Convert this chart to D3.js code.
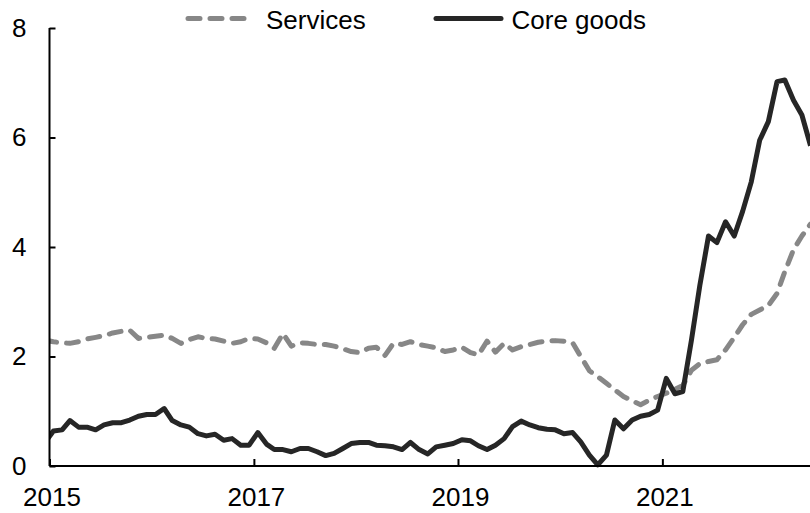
<!DOCTYPE html>
<html>
<head>
<meta charset="utf-8">
<script src="https://cdn.jsdelivr.net/npm/d3@7"></script>
<style>
  html, body { margin: 0; padding: 0; background: #fff; }
  svg { display: block; font-family: "Liberation Sans", Arial, sans-serif; }
</style>
</head>
<body>
<svg id="chart" width="810" height="513"></svg>
<script>
// ---- Data (monthly, plotted mid-month) ----
const months = [
  "2014-12",
  "2015-01","2015-02","2015-03","2015-04","2015-05","2015-06","2015-07","2015-08","2015-09","2015-10","2015-11","2015-12",
  "2016-01","2016-02","2016-03","2016-04","2016-05","2016-06","2016-07","2016-08","2016-09","2016-10","2016-11","2016-12",
  "2017-01","2017-02","2017-03","2017-04","2017-05","2017-06","2017-07","2017-08","2017-09","2017-10","2017-11","2017-12",
  "2018-01","2018-02","2018-03","2018-04","2018-05","2018-06","2018-07","2018-08","2018-09","2018-10","2018-11","2018-12",
  "2019-01","2019-02","2019-03","2019-04","2019-05","2019-06","2019-07","2019-08","2019-09","2019-10","2019-11","2019-12",
  "2020-01","2020-02","2020-03","2020-04","2020-05","2020-06","2020-07","2020-08","2020-09","2020-10","2020-11","2020-12",
  "2021-01","2021-02","2021-03","2021-04","2021-05","2021-06","2021-07","2021-08","2021-09","2021-10","2021-11","2021-12",
  "2022-01","2022-02","2022-03","2022-04","2022-05","2022-06"
];
const services = [
  2.30,
  2.27,2.25,2.24,2.27,2.32,2.35,2.38,2.43,2.46,2.48,2.33,2.35,
  2.37,2.39,2.33,2.24,2.31,2.36,2.33,2.32,2.28,2.24,2.27,2.33,
  2.32,2.25,2.15,2.42,2.19,2.25,2.24,2.22,2.22,2.19,2.14,2.09,
  2.07,2.15,2.17,2.02,2.24,2.22,2.27,2.22,2.19,2.16,2.09,2.12,
  2.17,2.07,2.03,2.28,2.08,2.24,2.12,2.18,2.22,2.26,2.28,2.29,
  2.28,2.25,2.00,1.74,1.63,1.51,1.39,1.27,1.19,1.12,1.20,1.27,
  1.33,1.40,1.47,1.75,1.87,1.91,1.94,2.12,2.35,2.58,2.77,2.85,
  2.93,3.15,3.55,3.95,4.20,4.42
];
const coreGoods = [
  0.42,
  0.64,0.66,0.83,0.71,0.71,0.66,0.75,0.79,0.79,0.84,0.91,0.94,
  0.94,1.05,0.83,0.75,0.71,0.59,0.55,0.58,0.47,0.50,0.38,0.38,
  0.61,0.40,0.30,0.30,0.26,0.32,0.32,0.26,0.19,0.23,0.32,0.41,
  0.43,0.43,0.38,0.37,0.35,0.30,0.43,0.30,0.22,0.35,0.38,0.41,
  0.48,0.46,0.37,0.30,0.38,0.50,0.72,0.82,0.75,0.70,0.67,0.66,
  0.59,0.61,0.44,0.20,0.02,0.20,0.84,0.68,0.84,0.91,0.94,1.02,
  1.60,1.32,1.36,2.30,3.30,4.20,4.08,4.46,4.20,4.65,5.19,5.95,
  6.29,7.02,7.05,6.68,6.41,5.85
];
const yTicks = [0, 2, 4, 6, 8];
const xTickYears = [2015, 2017, 2019, 2021];
const seriesNames = ["Services", "Core goods"];

// ---- Layout ----
const svg = d3.select("#chart");
const mLeft = 49.5, mRight = 810, mTop = 28, mBottom = 466;

const parse = d3.timeParse("%Y-%m");
const dates = months.map(m => { const d = parse(m); d.setDate(15); return d; });

const x = d3.scaleTime()
  .domain([new Date(2015, 0, 1), new Date(2022, 5, 13)])
  .range([mLeft, mRight]);
const y = d3.scaleLinear().domain([0, 8]).range([mBottom, mTop]);

svg.append("defs").append("clipPath").attr("id", "plot")
  .append("rect").attr("x", mLeft).attr("y", 0).attr("width", mRight - mLeft).attr("height", 513);

const line = d3.line().x((d, i) => x(dates[i])).y(d => y(d));

const g = svg.append("g").attr("clip-path", "url(#plot)");
g.append("path").datum(services)
  .attr("d", line).attr("fill", "none")
  .attr("stroke", "#878787").attr("stroke-width", 5)
  .attr("stroke-dasharray", "12,10").attr("stroke-linecap", "round").attr("stroke-linejoin", "round");
g.append("path").datum(coreGoods)
  .attr("d", line).attr("fill", "none")
  .attr("stroke", "#262626").attr("stroke-width", 5)
  .attr("stroke-linejoin", "round");

// ---- Axes ----
const yAxis = d3.axisLeft(y).tickValues(yTicks).tickSize(-6).tickPadding(23).tickFormat(d3.format("d"));
const yg = svg.append("g").attr("transform", `translate(${mLeft},0)`).call(yAxis);
yg.select(".domain").attr("stroke", "#000").attr("stroke-width", 2).attr("d", `M0,${mTop}V${mBottom}`);
yg.selectAll(".tick line").attr("stroke", "#000").attr("stroke-width", 2);
yg.selectAll(".tick text").attr("font-size", 26).attr("fill", "#000")
  .attr("font-family", "Liberation Sans, Arial, sans-serif");

const xAxis = d3.axisBottom(x)
  .tickValues(xTickYears.map(yr => new Date(yr, 0, 1)))
  .tickSize(-7).tickPadding(22).tickFormat(d3.timeFormat("%Y"));
const xg = svg.append("g").attr("transform", `translate(0,${mBottom})`).call(xAxis);
xg.select(".domain").attr("stroke", "#000").attr("stroke-width", 2).attr("d", `M${mLeft},0H${mRight}`);
xg.selectAll(".tick line").attr("stroke", "#000").attr("stroke-width", 2);
xg.selectAll(".tick text").attr("font-size", 26).attr("fill", "#000").attr("dx", 2)
  .attr("font-family", "Liberation Sans, Arial, sans-serif");

// ---- Legend ----
const lg = svg.append("g");
lg.append("line").attr("x1", 188).attr("x2", 248).attr("y1", 18.5).attr("y2", 18.5)
  .attr("stroke", "#878787").attr("stroke-width", 5)
  .attr("stroke-dasharray", "12,10").attr("stroke-linecap", "round");
lg.append("text").attr("x", 266).attr("y", 28.5).attr("font-size", 26).text(seriesNames[0]);
lg.append("line").attr("x1", 436).attr("x2", 501).attr("y1", 18.5).attr("y2", 18.5)
  .attr("stroke", "#262626").attr("stroke-width", 5).attr("stroke-linecap", "round");
lg.append("text").attr("x", 511.5).attr("y", 28.5).attr("font-size", 26).text(seriesNames[1]);
</script>
</body>
</html>
